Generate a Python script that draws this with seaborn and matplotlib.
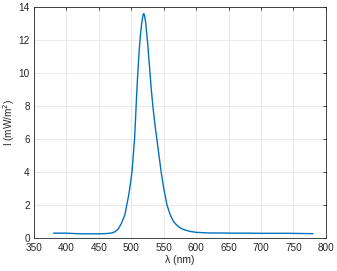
import numpy as np
import pandas as pd
import matplotlib
matplotlib.use('Agg')
import matplotlib.pyplot as plt
import seaborn as sns

# --- dados ---
wavelength = [380, 390, 400, 410, 420, 430, 440, 450, 460, 470, 475, 480, 485,
              490, 493, 496, 499, 501, 503, 505, 506.5, 508, 510, 512, 514,
              516, 518, 519, 520, 522, 525, 528, 531, 534, 537, 540, 543, 546,
              550, 555, 560, 565, 570, 575, 580, 590, 600, 620, 640, 660, 680,
              700, 720, 740, 760, 780]
intensity = [0.29, 0.29, 0.29, 0.27, 0.25, 0.25, 0.25, 0.25, 0.26, 0.30, 0.38,
             0.55, 0.90, 1.40, 2.00, 2.60, 3.40, 4.00, 5.00, 6.00, 7.20, 8.50,
             10.0, 11.3, 12.3, 13.0, 13.5, 13.6, 13.55, 13.1, 11.9, 10.4, 8.9,
             7.7, 6.7, 5.8, 4.9, 4.0, 3.0, 2.0, 1.4, 1.0, 0.78, 0.62, 0.52,
             0.40, 0.34, 0.30, 0.30, 0.29, 0.29, 0.28, 0.28, 0.28, 0.27, 0.26]

x_ticks = [350, 400, 450, 500, 550, 600, 650, 700, 750, 800]
y_ticks = [0, 2, 4, 6, 8, 10, 12, 14]

df = pd.DataFrame({'lambda': wavelength, 'I': intensity})

sns.set_style('whitegrid')
plt.rcParams['font.family'] = ['Liberation Sans', 'DejaVu Sans']

fig = plt.figure(figsize=(3.37, 2.71), dpi=100)
ax = fig.add_axes([0.101, 0.122, 0.866, 0.852])

sns.lineplot(data=df, x='lambda', y='I', color='#0072BD', linewidth=1.0, ax=ax)

ax.set_xlim(350, 800)
ax.set_ylim(0, 14)
ax.set_xticks(x_ticks)
ax.set_yticks(y_ticks)
ax.tick_params(axis='both', labelsize=7.2, colors='#262626', direction='in',
               length=2.5, width=0.6, top=True, right=True)
ax.tick_params(axis='x', pad=4)
ax.tick_params(axis='y', pad=3)
for s in ax.spines.values():
    s.set_color('#262626')
    s.set_linewidth(0.6)
ax.grid(True, color='#e6e6e6', linewidth=0.6)
ax.set_xlabel('λ (nm)', fontsize=7.5, color='#262626', labelpad=1)
ax.set_ylabel('I (mW/m$^2$)', fontsize=7.2, color='#262626')
ax.yaxis.set_label_coords(-0.058, 0.5)

fig.savefig('out.png', dpi=100)
